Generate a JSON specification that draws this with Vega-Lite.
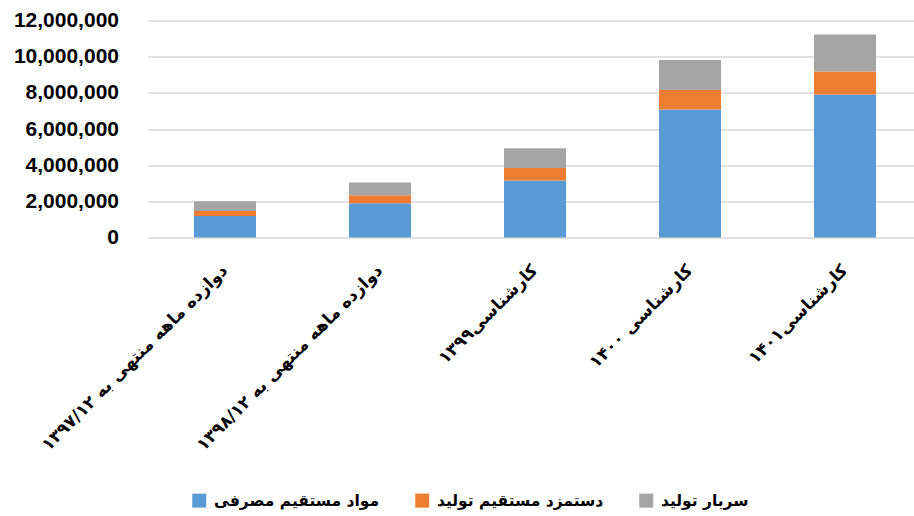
{
  "$schema": "https://vega.github.io/schema/vega-lite/v6.json",
  "autosize": {"type": "none"},
  "padding": {"left": 147.5, "top": 20.5, "right": 0, "bottom": 278.5},
  "width": 775,
  "height": 217,
  "background": "white",
  "data": {
    "values": [
      {"period": "دوازده ماهه منتهی به ۱۳۹۷/۱۲", "series": "مواد مستقیم مصرفی", "ord": 1, "value": 1190000},
      {"period": "دوازده ماهه منتهی به ۱۳۹۷/۱۲", "series": "دستمزد مستقیم تولید", "ord": 2, "value": 280000},
      {"period": "دوازده ماهه منتهی به ۱۳۹۷/۱۲", "series": "سربار تولید", "ord": 3, "value": 530000},
      {"period": "دوازده ماهه منتهی به ۱۳۹۸/۱۲", "series": "مواد مستقیم مصرفی", "ord": 1, "value": 1900000},
      {"period": "دوازده ماهه منتهی به ۱۳۹۸/۱۲", "series": "دستمزد مستقیم تولید", "ord": 2, "value": 440000},
      {"period": "دوازده ماهه منتهی به ۱۳۹۸/۱۲", "series": "سربار تولید", "ord": 3, "value": 700000},
      {"period": "کارشناسی۱۳۹۹", "series": "مواد مستقیم مصرفی", "ord": 1, "value": 3150000},
      {"period": "کارشناسی۱۳۹۹", "series": "دستمزد مستقیم تولید", "ord": 2, "value": 700000},
      {"period": "کارشناسی۱۳۹۹", "series": "سربار تولید", "ord": 3, "value": 1090000},
      {"period": "کارشناسی ۱۴۰۰", "series": "مواد مستقیم مصرفی", "ord": 1, "value": 7080000},
      {"period": "کارشناسی ۱۴۰۰", "series": "دستمزد مستقیم تولید", "ord": 2, "value": 1070000},
      {"period": "کارشناسی ۱۴۰۰", "series": "سربار تولید", "ord": 3, "value": 1670000},
      {"period": "کارشناسی۱۴۰۱", "series": "مواد مستقیم مصرفی", "ord": 1, "value": 7910000},
      {"period": "کارشناسی۱۴۰۱", "series": "دستمزد مستقیم تولید", "ord": 2, "value": 1270000},
      {"period": "کارشناسی۱۴۰۱", "series": "سربار تولید", "ord": 3, "value": 2050000}
    ]
  },
  "mark": {"type": "bar"},
  "encoding": {
    "x": {
      "field": "period",
      "type": "nominal",
      "sort": null,
      "scale": {"paddingInner": 0.6, "paddingOuter": 0.3},
      "axis": {
        "title": null,
        "domain": false,
        "ticks": false,
        "tickSize": 0,
        "labelAngle": -45,
        "labelAlign": "right",
        "labelBaseline": "middle",
        "labelPadding": 30,
        "labelFont": "DejaVu Sans",
        "labelFontWeight": "bold",
        "labelFontSize": 17,
        "labelColor": "#000000",
        "labelLimit": 400
      }
    },
    "y": {
      "field": "value",
      "type": "quantitative",
      "stack": "zero",
      "scale": {"domain": [0, 12000000], "nice": false},
      "axis": {
        "title": null,
        "values": [0, 2000000, 4000000, 6000000, 8000000, 10000000, 12000000],
        "format": ",d",
        "domain": false,
        "ticks": false,
        "tickSize": 0,
        "labelPadding": 29,
        "labelFont": "Liberation Sans",
        "labelFontWeight": "bold",
        "labelFontSize": 21,
        "labelColor": "#000000",
        "gridColor": "#d9d9d9",
        "gridWidth": 1.5
      }
    },
    "color": {
      "field": "series",
      "type": "nominal",
      "sort": ["مواد مستقیم مصرفی", "دستمزد مستقیم تولید", "سربار تولید"],
      "scale": {
        "domain": ["مواد مستقیم مصرفی", "دستمزد مستقیم تولید", "سربار تولید"],
        "range": ["#5b9bd5", "#ed7d31", "#a5a5a5"]
      },
      "legend": {
        "title": null,
        "orient": "none",
        "direction": "horizontal",
        "legendX": 44,
        "legendY": 472,
        "symbolType": "square",
        "symbolSize": 196,
        "symbolStrokeWidth": 0,
        "symbolOpacity": 1,
        "labelFont": "DejaVu Sans",
        "labelFontWeight": "bold",
        "labelFontSize": 15.5,
        "labelColor": "#000000",
        "labelLimit": 300,
        "labelOffset": 7,
        "columnPadding": 35
      }
    },
    "order": {"field": "ord", "type": "quantitative"}
  },
  "config": {
    "view": {"stroke": null}
  }
}
